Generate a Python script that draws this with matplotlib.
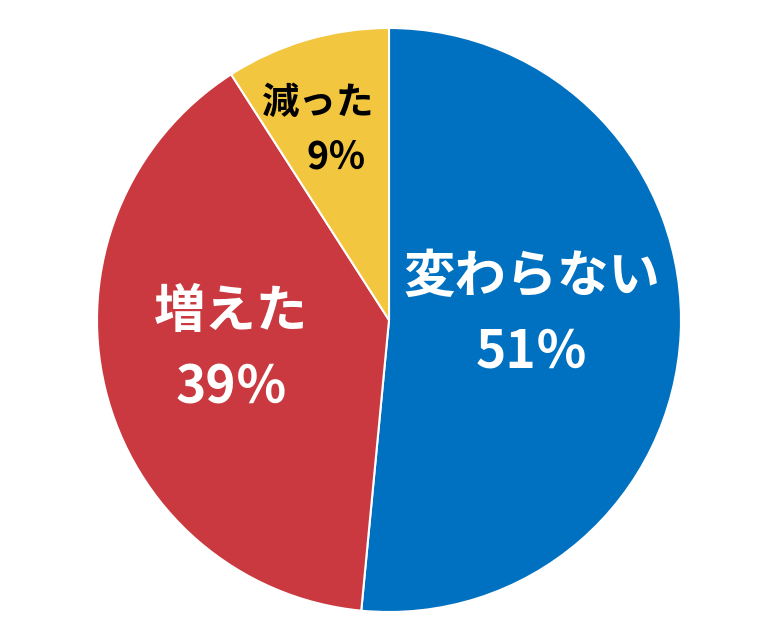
import matplotlib
matplotlib.use("Agg")
import matplotlib.pyplot as plt
import numpy as np

plt.rcParams['font.family'] = ['Noto Sans CJK JP', 'DejaVu Sans']

labels = ['変わらない', '減った', '増えた']
values = [51, 9, 39]
pct_text = ['51％', '9％', '39％']
colors = ['#0070C0', '#F2C63E', '#C9393F']
text_colors = ['white', 'black', 'white']

fig = plt.figure(figsize=(7.68, 6.4), dpi=100)
ax = fig.add_axes([0, 0, 1, 1])

# pie goes clockwise from the top: blue, then red, then yellow
order = [0, 2, 1]
wedges, _ = ax.pie([values[i] for i in order], colors=[colors[i] for i in order],
                   startangle=90, counterclock=False, radius=1.0,
                   wedgeprops=dict(edgecolor='white', linewidth=1.5))

# label radius / size per slice (index in labels list)
lab_r = {0: 0.49, 1: 0.695, 2: 0.55}
lab_size = {0: 37, 1: 27, 2: 37}
lab_gap = {0: 0.13, 1: 0.094, 2: 0.13}
lab_rot = {0: 5, 1: 4, 2: -3}
pct_dx = {0: 0.0, 1: 0.06, 2: 0.0}
for w, i in zip(wedges, order):
    mid = np.deg2rad((w.theta1 + w.theta2) / 2 + lab_rot[i])
    x, y = lab_r[i] * np.cos(mid), lab_r[i] * np.sin(mid)
    ax.text(x, y + lab_gap[i], labels[i], ha='center', va='center',
            color=text_colors[i], fontsize=lab_size[i], fontweight='bold')
    ax.text(x + pct_dx[i], y - lab_gap[i], pct_text[i],
            ha='center', va='center',
            color=text_colors[i], fontsize=lab_size[i], fontweight='bold')

r_px = 292.0
cx, cy = 389.0, 320.0
ax.set_xlim(-cx / r_px, (768 - cx) / r_px)
ax.set_ylim(-(640 - cy) / r_px, cy / r_px)
ax.set_aspect('auto')
ax.axis('off')

fig.savefig('out.png', dpi=100, facecolor='white')
